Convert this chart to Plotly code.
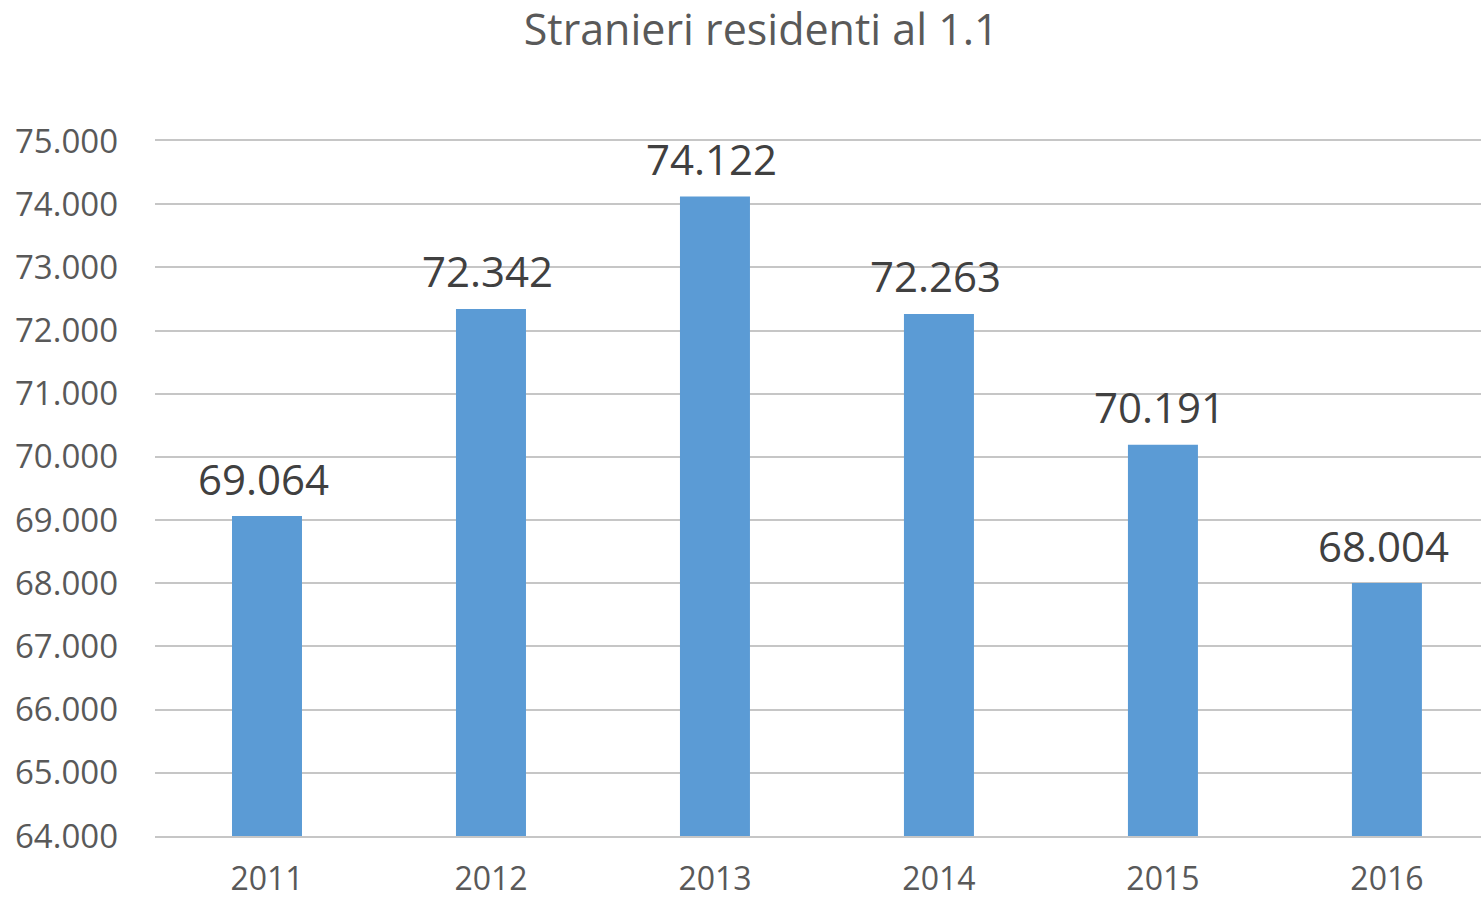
import plotly.graph_objects as go

years = ["2011", "2012", "2013", "2014", "2015", "2016"]
residents = [69064, 72342, 74122, 72263, 70191, 68004]
y_ticks = [64000, 65000, 66000, 67000, 68000, 69000, 70000, 71000, 72000, 73000, 74000, 75000]

fig = go.Figure(go.Bar(
    x=years, y=residents,
    marker=dict(color="#5B9BD5", line=dict(width=0)),
    width=0.3125,
    hoverinfo="x+y",
))

for i, val in enumerate(residents):
    fig.add_annotation(x=i, y=val, xref="x", yref="y",
                       text=f"{val:,}".replace(",", "."),
                       showarrow=False, yanchor="middle", xanchor="center",
                       yshift=38, xshift=-3,
                       font=dict(family="Open Sans", size=42, color="#404040"))

fig.update_layout(
    width=1481, height=901,
    paper_bgcolor="white", plot_bgcolor="white",
    separators=",.",
    margin=dict(l=155, r=0, t=141, b=65),
    showlegend=False,
    title=dict(text="Stranieri residenti al 1.1", x=0.514, xanchor="center",
               y=1 - 30/901, yref="container", yanchor="middle",
               font=dict(family="Open Sans", size=43, color="#595959")),
    font=dict(family="Open Sans", color="#595959"),
)
fig.update_xaxes(type="category", range=[-0.5, 5.42], showgrid=False, showline=True, mirror=True,
                 linecolor="#C6C6C6", linewidth=2, ticks="", automargin=False,
                 tickfont=dict(size=32, color="#595959"), ticklabelstandoff=14)
fig.update_yaxes(range=[64000, 75000], tickvals=y_ticks, tickformat=",d",
                 showgrid=True, gridcolor="#C6C6C6", gridwidth=2, automargin=False,
                 zeroline=False, showline=False, ticks="",
                 tickfont=dict(size=33, color="#595959"), ticklabelstandoff=36)

fig.write_html("out.html", config={"displayModeBar": False},
               post_script="document.body.style.margin='0';")
